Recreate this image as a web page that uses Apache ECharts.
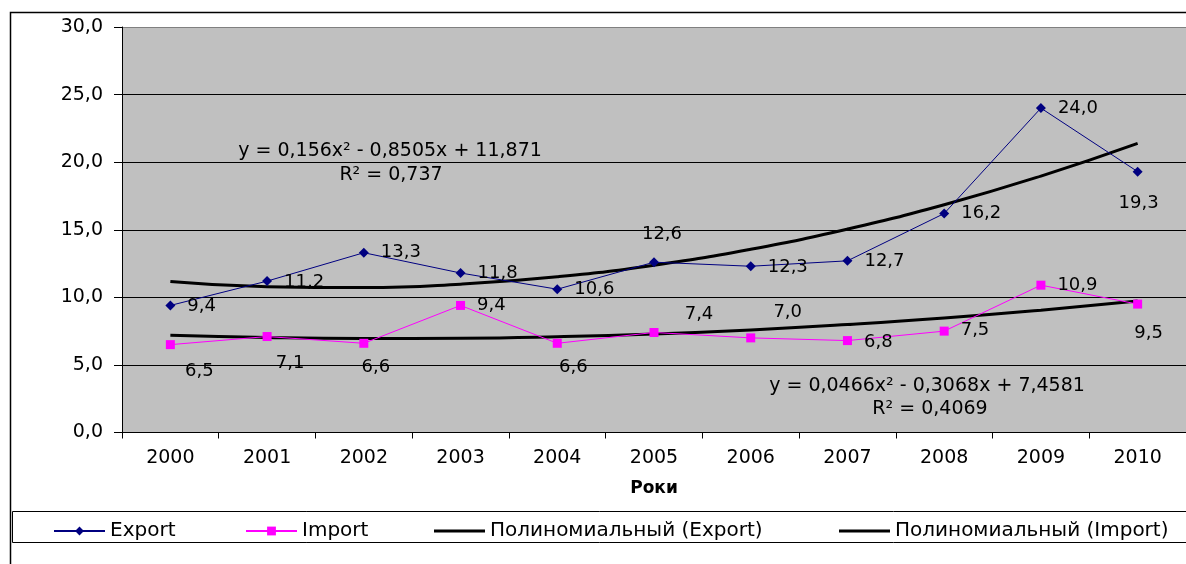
<!DOCTYPE html>
<html>
<head>
<meta charset="utf-8">
<script src="https://cdn.jsdelivr.net/npm/echarts@6/dist/echarts.min.js"></script>
<style>
html,body{margin:0;padding:0;background:#fff;}
#c{width:1186px;height:564px;}
</style>
</head>
<body>
<div id="c"></div>
<script>
// ---- data ----
const years = ['2000','2001','2002','2003','2004','2005','2006','2007','2008','2009','2010'];
const exportValues = [9.4, 11.2, 13.3, 11.8, 10.6, 12.6, 12.3, 12.7, 16.2, 24.0, 19.3];
const importValues = [6.5, 7.1, 6.6, 9.4, 6.6, 7.4, 7.0, 6.8, 7.5, 10.9, 9.5];
// polynomial trend values at each year (from the chart's trend lines)
const exportTrend = [11.18, 10.79, 10.72, 10.97, 11.52, 12.38, 13.56, 15.05, 16.85, 18.97, 21.39];
const importTrend = [7.20, 7.03, 6.96, 6.98, 7.09, 7.29, 7.59, 7.99, 8.47, 9.05, 9.72];
const yTicks = [0, 5, 10, 15, 20, 25, 30];
const exportEquation = ['y = 0,156x² - 0,8505x + 11,871', 'R² = 0,737'];
const importEquation = ['y = 0,0466x² - 0,3068x + 7,4581', 'R² = 0,4069'];
const seriesNames = ['Export', 'Import', 'Полиномиальный (Export)', 'Полиномиальный (Import)'];
const axisTitle = 'Роки';

// ---- label placement (style only) ----
const exportLabelPos = ['right','right','right','right','right','top','right','right','right','right','bottom'];
const exportLabelOff = [[7,1],[7,1],[7,0],[7,0],[7,0],[8,-9],[7,1],[7,0],[7,0],[7,0],[1,13]];
const importLabelPos = ['bottom','bottom','bottom','right','bottom','top','top','right','right','right','bottom'];
const importLabelOff = [[29,8],[23,8],[12,6],[7,0],[16,6],[45,0],[37,-7],[7,2],[7,-1],[7,0],[11,11]];

const FONT = 'DejaVu Sans';
const fmt = v => Number(v).toFixed(1).replace('.', ',');

function withLabels(values, pos, off) {
  return values.map((v, i) => ({
    value: v,
    label: { position: pos[i], offset: off[i] }
  }));
}

const chart = echarts.init(document.getElementById('c'), null, { renderer: 'canvas' });

const legendBase = {
  top: 516,
  itemWidth: 51,
  itemHeight: 11,
  z: 10,
  selectedMode: false,
  textStyle: { fontFamily: FONT, fontSize: 20, color: '#000' }
};

chart.setOption({
  animation: false,
  backgroundColor: '#fff',
  textStyle: { fontFamily: FONT },
  grid: {
    left: 122, top: 27, width: 1075, height: 405.5,
    show: true, backgroundColor: '#C0C0C0', borderWidth: 0
  },
  xAxis: {
    type: 'category',
    data: years,
    boundaryGap: true,
    axisLine: { lineStyle: { color: '#000', width: 1 } },
    axisTick: { show: true, length: 6, alignWithLabel: false, lineStyle: { color: '#000' } },
    axisLabel: { color: '#000', fontFamily: FONT, fontSize: 19, margin: 16 },
    name: axisTitle,
    nameLocation: 'middle',
    nameGap: 48,
    nameTextStyle: { color: '#000', fontFamily: FONT, fontSize: 17, fontWeight: 'bold' },
    splitLine: { show: false }
  },
  yAxis: {
    type: 'value',
    min: yTicks[0],
    max: yTicks[yTicks.length - 1],
    interval: 5,
    axisLine: { show: true, lineStyle: { color: '#000', width: 1 } },
    axisTick: { show: true, length: 8, lineStyle: { color: '#000' } },
    axisLabel: { color: '#000', fontFamily: FONT, fontSize: 19, margin: 19, formatter: fmt },
    splitLine: { show: true, lineStyle: { color: ['#000','#000','#000','#000','#000','#000','#808080'], width: 1 } }
  },
  legend: [
    Object.assign({}, legendBase, { left: 48, data: [seriesNames[0]] }),
    Object.assign({}, legendBase, { left: 240, data: [seriesNames[1]] }),
    Object.assign({}, legendBase, { left: 429, data: [seriesNames[2]], icon: 'rect', itemHeight: 3 }),
    Object.assign({}, legendBase, { left: 834, data: [seriesNames[3]], icon: 'rect', itemHeight: 3 })
  ],
  graphic: [
    { type: 'rect', z: -10, silent: true,
      shape: { x: 10.5, y: 12.5, width: 1400, height: 800 },
      style: { fill: 'transparent', stroke: '#000', lineWidth: 1.5 } },
    { type: 'rect', z: 1, silent: true,
      shape: { x: 12.5, y: 511.5, width: 1400, height: 31 },
      style: { fill: '#fff', stroke: '#000', lineWidth: 1 } },
    { type: 'text', z: 50, silent: true, x: 390, y: 151,
      style: { text: exportEquation[0], fontFamily: FONT, fontSize: 19, fill: '#000', align: 'center', verticalAlign: 'middle' } },
    { type: 'text', z: 50, silent: true, x: 391, y: 175,
      style: { text: exportEquation[1], fontFamily: FONT, fontSize: 19, fill: '#000', align: 'center', verticalAlign: 'middle' } },
    { type: 'text', z: 50, silent: true, x: 927, y: 386,
      style: { text: importEquation[0], fontFamily: FONT, fontSize: 19, fill: '#000', align: 'center', verticalAlign: 'middle' } },
    { type: 'text', z: 50, silent: true, x: 930, y: 409,
      style: { text: importEquation[1], fontFamily: FONT, fontSize: 19, fill: '#000', align: 'center', verticalAlign: 'middle' } }
  ],
  series: [
    {
      name: seriesNames[0], type: 'line',
      data: withLabels(exportValues, exportLabelPos, exportLabelOff),
      symbol: 'diamond', symbolSize: 10,
      itemStyle: { color: '#000080' },
      lineStyle: { color: '#000080', width: 1 },
      label: { show: true, color: '#000', fontFamily: FONT, fontSize: 18, formatter: p => fmt(p.value) },
      z: 5
    },
    {
      name: seriesNames[1], type: 'line',
      data: withLabels(importValues, importLabelPos, importLabelOff),
      symbol: 'rect', symbolSize: 9,
      itemStyle: { color: '#FF00FF' },
      lineStyle: { color: '#FF00FF', width: 1 },
      label: { show: true, color: '#000', fontFamily: FONT, fontSize: 18, formatter: p => fmt(p.value) },
      z: 5
    },
    {
      name: seriesNames[2], type: 'line',
      data: exportTrend, smooth: true, symbol: 'none',
      itemStyle: { color: '#000' },
      lineStyle: { color: '#000', width: 3 },
      z: 4
    },
    {
      name: seriesNames[3], type: 'line',
      data: importTrend, smooth: true, symbol: 'none',
      itemStyle: { color: '#000' },
      lineStyle: { color: '#000', width: 3 },
      z: 4
    }
  ]
});
</script>
</body>
</html>
